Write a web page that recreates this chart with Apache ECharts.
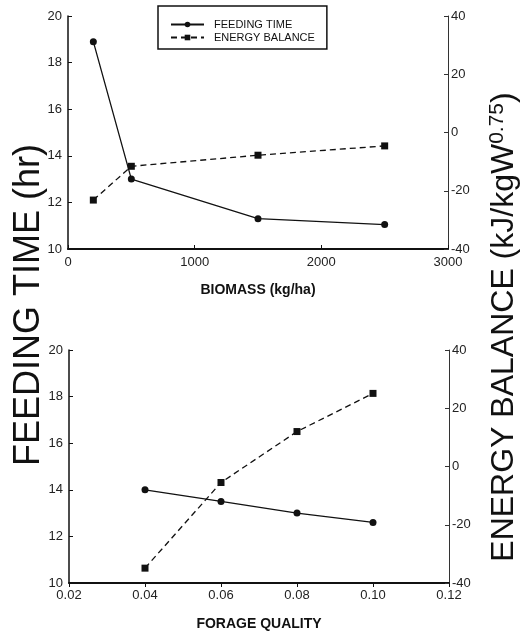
<!DOCTYPE html>
<html>
<head>
<meta charset="utf-8">
<script src="https://cdn.jsdelivr.net/npm/echarts@6/dist/echarts.min.js"></script>
<style>
  html, body { margin: 0; padding: 0; background: #fff; }
  #chart { width: 523px; height: 632px; }
</style>
</head>
<body>
<div id="chart"></div>
<script>
// Feeding time and energy balance against pasture biomass (top panel)
// and against forage quality (bottom panel).
const biomass = [200, 500, 1500, 2500];
const biomassFeedingTime = [18.9, 13.0, 11.3, 11.05];
const biomassEnergyBalance = [-23.2, -11.6, -7.8, -4.6];

const forageQuality = [0.04, 0.06, 0.08, 0.10];
const qualityFeedingTime = [14.0, 13.5, 13.0, 12.6];
const qualityEnergyBalance = [-34.9, -5.5, 12.0, 25.1];

const seriesNames = ['FEEDING TIME', 'ENERGY BALANCE'];

const FONT = '"Liberation Sans", Arial, sans-serif';
const INK = '#111';

function pairs(xs, ys) {
  return xs.map((x, i) => [x, ys[i]]);
}

function leftAxis(gridIndex) {
  return {
    type: 'value', gridIndex, position: 'left',
    min: 10, max: 20, interval: 2,
    axisLine: { show: true, lineStyle: { color: INK, width: 1.5 } },
    axisTick: { show: true, inside: true, length: 4, lineStyle: { color: INK } },
    axisLabel: { color: '#222', fontSize: 13, fontFamily: FONT, margin: 6 },
    splitLine: { show: false }
  };
}

function rightAxis(gridIndex) {
  return {
    type: 'value', gridIndex, position: 'right',
    min: -40, max: 40, interval: 20,
    axisLine: { show: true, lineStyle: { color: '#333', width: 1 } },
    axisTick: { show: true, inside: true, length: 4, lineStyle: { color: '#333' } },
    axisLabel: { color: '#222', fontSize: 13, fontFamily: FONT, margin: 3 },
    splitLine: { show: false }
  };
}

function bottomAxis(gridIndex, cfg) {
  return Object.assign({
    type: 'value', gridIndex, position: 'bottom',
    nameLocation: 'middle', nameGap: 34,
    nameTextStyle: { color: INK, fontSize: 14, fontWeight: 'bold', fontFamily: FONT },
    axisLine: { show: true, onZero: false, lineStyle: { color: INK, width: 2 } },
    axisTick: { show: true, inside: true, length: 4, lineStyle: { color: INK } },
    axisLabel: { color: '#222', fontSize: 13, fontFamily: FONT, margin: 7,
      formatter: v => String(v) },
    splitLine: { show: false }
  }, cfg);
}

function feedingSeries(xAxisIndex, yAxisIndex, data) {
  return {
    name: seriesNames[0], type: 'line', xAxisIndex, yAxisIndex, data,
    symbol: 'circle', symbolSize: 7,
    lineStyle: { color: INK, width: 1.3, type: 'solid' },
    itemStyle: { color: INK },
    animation: false
  };
}

function energySeries(xAxisIndex, yAxisIndex, data) {
  return {
    name: seriesNames[1], type: 'line', xAxisIndex, yAxisIndex, data,
    symbol: 'rect', symbolSize: 7,
    lineStyle: { color: INK, width: 1.3, type: [6, 4] },
    itemStyle: { color: INK },
    animation: false
  };
}

const chart = echarts.init(document.getElementById('chart'), null, { renderer: 'canvas' });

chart.setOption({
  backgroundColor: '#fff',
  animation: false,
  grid: [
    { left: 68, right: 75, top: 16, height: 233 },
    { left: 69, right: 74, top: 350, height: 233 }
  ],
  legend: {
    data: seriesNames,
    orient: 'vertical',
    left: 158, top: 6,
    padding: [13, 12, 6, 12],
    itemWidth: 33, itemHeight: 7, itemGap: 2,
    borderColor: INK, borderWidth: 1.5,
    textStyle: { color: INK, fontSize: 11, fontFamily: FONT, padding: [0, 0, 0, 5] }
  },
  xAxis: [
    bottomAxis(0, { min: 0, max: 3000, interval: 1000, name: 'BIOMASS (kg/ha)' }),
    bottomAxis(1, {
      min: 0.02, max: 0.12, interval: 0.02, name: 'FORAGE QUALITY',
      axisTick: { show: true, inside: false, length: 4, lineStyle: { color: INK } },
      axisLabel: { color: '#222', fontSize: 13, fontFamily: FONT, margin: 6,
        formatter: v => v.toFixed(2) }
    })
  ],
  yAxis: [leftAxis(0), rightAxis(0), leftAxis(1), rightAxis(1)],
  series: [
    feedingSeries(0, 0, pairs(biomass, biomassFeedingTime)),
    energySeries(0, 1, pairs(biomass, biomassEnergyBalance)),
    feedingSeries(1, 2, pairs(forageQuality, qualityFeedingTime)),
    energySeries(1, 3, pairs(forageQuality, qualityEnergyBalance))
  ],
  graphic: [
    {
      type: 'text', x: 29, y: 305, rotation: Math.PI / 2,
      style: {
        text: 'FEEDING TIME (hr)',
        font: '36px ' + FONT,
        fill: INK, align: 'center', verticalAlign: 'middle'
      }
    },
    {
      type: 'text', x: 504, y: 327, rotation: Math.PI / 2,
      style: {
        text: '{m|ENERGY BALANCE (kJ/kgW}{s|0.75}{m|)}',
        fill: INK, align: 'center', verticalAlign: 'middle',
        rich: {
          m: { fontSize: 32, fontFamily: FONT, fill: INK, lineHeight: 35 },
          s: { fontSize: 21, fontFamily: FONT, fill: INK, verticalAlign: 'top', lineHeight: 35 }
        }
      }
    }
  ]
});
</script>
</body>
</html>
